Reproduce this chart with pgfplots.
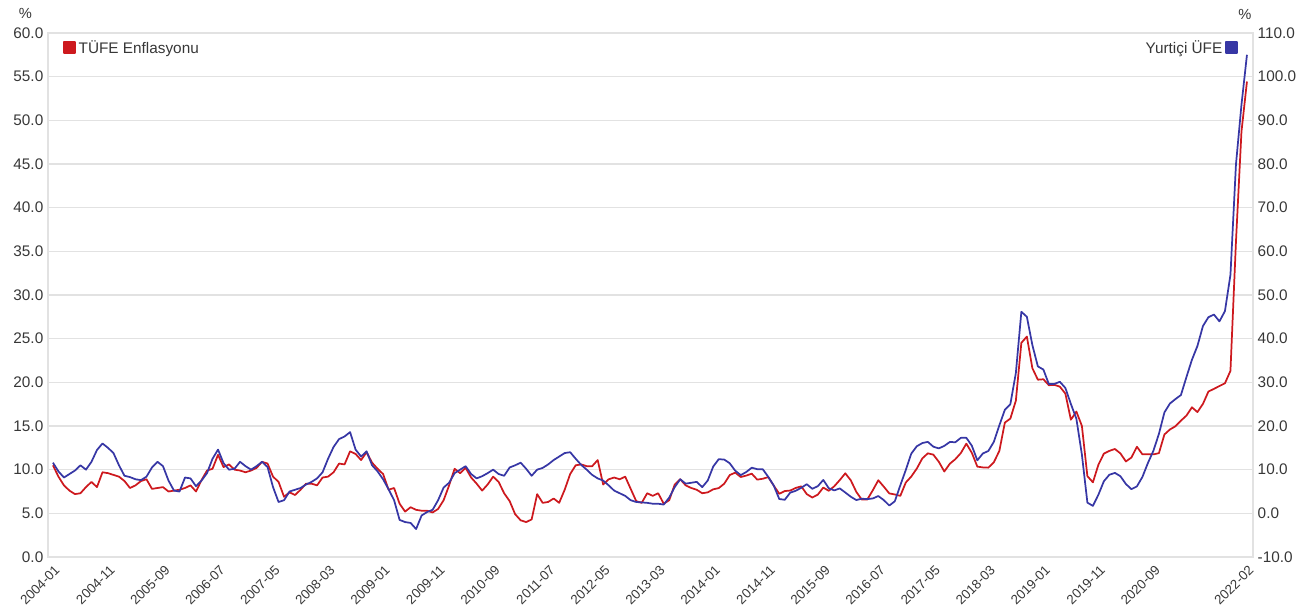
\documentclass[border=0pt]{standalone}
\usepackage{fontspec}
\setmainfont{Liberation Sans}
\usepackage{pgfplots}
\usepackage{pgfplotstable}
\pgfplotsset{compat=1.18}

\definecolor{tufered}{RGB}{205,25,30}
\definecolor{ufeblue}{RGB}{55,55,165}
\definecolor{gridgray}{RGB}{226,226,226}
\definecolor{labelgray}{RGB}{55,55,55}

% Annual change (%): month index from 2004-01, consumer prices, domestic producer prices
\pgfplotstableread{
i tufe ufe
0 10.5 11.6
1 9.2 9.6
2 8.2 8.2
3 7.6 9.0
4 7.2 9.8
5 7.3 11.0
6 8.0 10.0
7 8.6 11.8
8 8.0 14.5
9 9.7 16.0
10 9.6 15.0
11 9.4 13.8
12 9.2 11.0
13 8.7 8.6
14 7.9 8.3
15 8.2 7.8
16 8.7 7.6
17 8.9 8.4
18 7.8 10.5
19 7.9 11.8
20 8.0 10.8
21 7.5 7.5
22 7.6 5.2
23 7.7 5.0
24 7.9 8.2
25 8.2 8.0
26 7.5 6.2
27 8.8 7.5
28 9.9 9.2
29 10.1 12.5
30 11.7 14.6
31 10.3 11.5
32 10.6 10.0
33 10.0 10.2
34 9.9 11.8
35 9.7 10.8
36 9.9 10.0
37 10.2 10.8
38 10.9 11.8
39 10.7 10.6
40 9.2 6.0
41 8.6 2.6
42 6.9 3.0
43 7.4 5.0
44 7.1 5.4
45 7.7 5.8
46 8.4 6.6
47 8.4 7.2
48 8.2 8.0
49 9.1 9.4
50 9.2 12.5
51 9.7 15.2
52 10.7 17.0
53 10.6 17.6
54 12.1 18.6
55 11.8 14.6
56 11.1 13.0
57 12.0 14.2
58 10.8 11.0
59 10.1 9.6
60 9.5 7.8
61 7.7 5.5
62 7.9 3.0
63 6.1 -1.5
64 5.2 -2.0
65 5.7 -2.2
66 5.4 -3.6
67 5.3 -0.5
68 5.3 0.3
69 5.1 0.8
70 5.5 3.0
71 6.5 5.9
72 8.2 7.0
73 10.1 9.2
74 9.6 10.0
75 10.2 10.8
76 9.1 9.0
77 8.4 8.0
78 7.6 8.5
79 8.3 9.2
80 9.2 10.0
81 8.6 9.0
82 7.3 8.6
83 6.4 10.5
84 4.9 11.0
85 4.2 11.6
86 4.0 10.2
87 4.3 8.6
88 7.2 10.0
89 6.2 10.4
90 6.3 11.2
91 6.7 12.2
92 6.2 13.0
93 7.7 13.8
94 9.5 14.0
95 10.5 12.5
96 10.6 11.1
97 10.4 10.0
98 10.4 8.8
99 11.1 8.0
100 8.3 7.5
101 8.9 6.4
102 9.1 5.2
103 8.9 4.6
104 9.2 4.0
105 7.8 3.0
106 6.4 2.6
107 6.2 2.5
108 7.3 2.4
109 7.0 2.2
110 7.3 2.2
111 6.1 2.0
112 6.5 3.6
113 8.3 6.0
114 8.9 7.8
115 8.2 6.8
116 7.9 7.0
117 7.7 7.2
118 7.3 6.0
119 7.4 7.5
120 7.75 10.72
121 7.89 12.40
122 8.39 12.31
123 9.38 11.46
124 9.66 9.75
125 9.16 8.75
126 9.32 9.46
127 9.54 10.45
128 8.86 10.11
129 8.96 10.10
130 9.15 8.36
131 8.17 6.36
132 7.24 3.28
133 7.55 3.10
134 7.61 4.75
135 7.91 5.17
136 8.09 5.85
137 7.20 6.67
138 6.81 5.62
139 7.14 6.21
140 7.95 7.65
141 7.58 5.74
142 8.10 5.25
143 8.81 5.71
144 9.58 4.77
145 8.78 3.80
146 7.46 3.04
147 6.57 3.35
148 6.58 3.25
149 7.64 3.41
150 8.79 3.96
151 8.05 3.03
152 7.28 1.78
153 7.16 2.76
154 7.00 6.41
155 8.53 9.94
156 9.22 13.69
157 10.13 15.36
158 11.29 16.09
159 11.87 16.37
160 11.72 15.26
161 10.90 14.87
162 9.79 15.45
163 10.68 16.34
164 11.20 16.28
165 11.90 17.28
166 12.98 17.30
167 11.92 15.47
168 10.35 12.14
169 10.26 13.71
170 10.23 14.28
171 10.85 16.37
172 12.15 20.16
173 15.39 23.71
174 15.85 25.00
175 17.90 32.13
176 24.52 46.15
177 25.24 45.01
178 21.62 38.54
179 20.30 33.64
180 20.35 32.93
181 19.67 29.59
182 19.71 29.64
183 19.50 30.12
184 18.71 28.71
185 15.72 25.04
186 16.65 21.66
187 15.01 13.45
188 9.26 2.45
189 8.55 1.70
190 10.56 4.26
191 11.84 7.36
192 12.15 8.84
193 12.37 9.26
194 11.86 8.50
195 10.94 6.71
196 11.39 5.53
197 12.62 6.17
198 11.76 8.33
199 11.77 11.53
200 11.75 14.33
201 11.89 18.20
202 14.03 23.11
203 14.60 25.15
204 14.97 26.16
205 15.61 27.09
206 16.19 31.20
207 17.14 35.17
208 16.59 38.33
209 17.53 42.89
210 18.95 44.92
211 19.25 45.52
212 19.58 43.96
213 19.89 46.31
214 21.31 54.62
215 36.08 79.89
216 48.69 93.53
217 54.44 105.01
}\inflation

\pgfplotsset{
  twinaxis/.style={
    scale only axis,
    width=903.75pt, height=393pt,
    xmin=-0.9, xmax=218.1,
    clip mode=individual,
    axis line style={gridgray, line width=0.9pt},
    major tick length=0pt,
    tick label style={font=\fontsize{11.5}{13}\selectfont, text=labelgray},
    /pgf/number format/assume math mode=true,
    yticklabel style={/pgf/number format/.cd, fixed, fixed zerofill, precision=1},
    legend style={draw=none, fill=none, font=\fontsize{11.5}{13}\selectfont, text=labelgray,
                  inner sep=0pt, row sep=0pt},
  },
}

\begin{document}
\begin{tikzpicture}
\path[use as bounding box] (-36pt,-44.25pt) rectangle (948.75pt,417.75pt);

% left scale: consumer price inflation
\begin{axis}[twinaxis,
  ymin=0, ymax=60, ytick={0,5,...,60},
  ymajorgrids, grid style={gridgray, line width=0.9pt},
  xtick={0,10,20,30,40,50,60,70,80,90,100,110,120,130,140,150,160,170,180,190,200,217},
  xticklabels={2004-01,2004-11,2005-09,2006-07,2007-05,2008-03,2009-01,2009-11,2010-09,2011-07,
               2012-05,2013-03,2014-01,2014-11,2015-09,2016-07,2017-05,2018-03,2019-01,2019-11,
               2020-09,2022-02},
  xticklabel style={rotate=45, anchor=north east, font=\fontsize{10}{12}\selectfont, yshift=-1pt},
  legend style={at={(0,1)}, anchor=north west, xshift=11pt, yshift=-3.5pt},
  legend image code/.code={\fill[tufered] (0pt,-4pt) rectangle (8.5pt,4.5pt);},
]
\addplot[tufered, line width=1.3pt, line join=round] table[x=i, y=tufe]{\inflation};
\addlegendentry{TÜFE Enflasyonu}
\node[font=\fontsize{11}{13}\selectfont, text=labelgray] at (rel axis cs:0,1) [xshift=-17pt, yshift=15pt] {\%};
\end{axis}

% right scale: domestic producer price inflation
\begin{axis}[twinaxis,
  hide x axis,
  axis y line*=right,
  ymin=-10, ymax=110, ytick={-10,0,...,110},
  legend style={at={(1,1)}, anchor=north east, xshift=-11pt, yshift=-3.5pt},
  legend plot pos=right,
  legend cell align=right,
  legend image code/.code={\fill[ufeblue] (0pt,-4pt) rectangle (8.5pt,4.5pt);},
]
\addplot[ufeblue, line width=1.3pt, line join=round] table[x=i, y=ufe]{\inflation};
\addlegendentry{Yurtiçi ÜFE}
\node[font=\fontsize{11}{13}\selectfont, text=labelgray] at (rel axis cs:1,1) [xshift=-6pt, yshift=14pt] {\%};
\end{axis}
\end{tikzpicture}
\end{document}
